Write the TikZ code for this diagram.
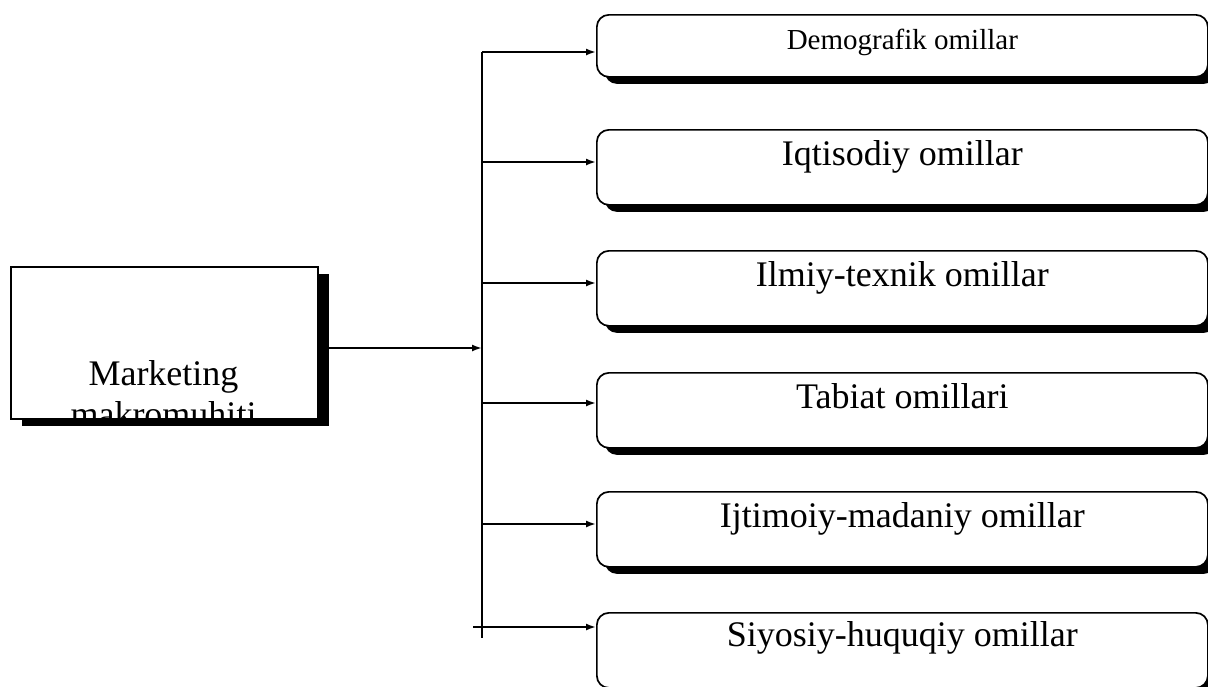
\documentclass[tikz,border=0pt]{standalone}
\usepackage{fontspec}
\setmainfont{Liberation Serif}
\usetikzlibrary{shadows,arrows.meta,calc}
\begin{document}
\begin{tikzpicture}[x=1pt,y=-1pt,
  rbox/.style={draw, line width=1.7pt, fill=white, rounded corners=12pt,
    minimum width=611pt, minimum height=75pt, anchor=north west, inner sep=0pt,
    drop shadow={shadow xshift=8pt, shadow yshift=-7pt, fill=black, opacity=1}},
  lboxst/.style={draw, line width=1.7pt, fill=white, rectangle,
    minimum width=307pt, minimum height=152pt, anchor=north west, inner sep=0pt,
    drop shadow={shadow xshift=11pt, shadow yshift=-7pt, fill=black, opacity=1}},
  lbl/.style={anchor=base, inner sep=0pt, font=\fontsize{36}{41}\selectfont},
  smalllbl/.style={anchor=base, inner sep=0pt, font=\fontsize{29}{33}\selectfont},
  arr/.style={line width=1.8pt, -{Latex[length=10pt,width=7pt]}},
  bus/.style={line width=2.4pt}
]
\useasboundingbox (0,0) rectangle (1208,686);
\clip (0,0) rectangle (1208,686);

% left box
\node[lboxst] (lb) at (10,266) {};
\begin{scope}
  \clip ($(lb.north west)+(1,1)$) rectangle ($(lb.south east)+(-1,-1)$);
  \node[align=center, anchor=north, inner sep=0pt, font=\fontsize{36}{41}\selectfont] (lt) at (163.5,360) {Marketing\\makromuhiti};
\end{scope}

% right boxes
\node[rbox, minimum height=62pt] (b1) at (596,14) {};
\node[rbox] (b2) at (596,129) {};
\node[rbox] (b3) at (596,250) {};
\node[rbox] (b4) at (596,372) {};
\node[rbox] (b5) at (596,491) {};
\node[rbox] (b6) at (596,612) {};

\node[smalllbl] (t1) at ($(b1.north)+(0,35)$) {Demografik omillar};
\node[lbl] (t2) at ($(b2.north)+(0,36)$) {Iqtisodiy omillar};
\node[lbl] (t3) at ($(b3.north)+(0,36)$) {Ilmiy-texnik omillar};
\node[lbl] (t4) at ($(b4.north)+(0,36)$) {Tabiat omillari};
\node[lbl] (t5) at ($(b5.north)+(0,36)$) {Ijtimoiy-madaniy omillar};
\node[lbl] (t6) at ($(b6.north)+(0,34)$) {Siyosiy-huquqiy omillar};

% bus
\coordinate (bt) at (482,52);
\coordinate (bb) at (482,638);
\draw[bus] (bt) -- (bb);

\coordinate (j0) at (482,348);
\coordinate (j1) at (482,52);
\coordinate (j2) at (482,162);
\coordinate (j3) at (482,283);
\coordinate (j4) at (482,403);
\coordinate (j5) at (482,524);
\coordinate (j6) at (473,627);

\draw[arr] (lb.east |- j0) -- (j0);
\draw[arr] (j1) -- (b1.west |- j1);
\draw[arr] (j2) -- (b2.west |- j2);
\draw[arr] (j3) -- (b3.west |- j3);
\draw[arr] (j4) -- (b4.west |- j4);
\draw[arr] (j5) -- (b5.west |- j5);
\draw[arr] (j6) -- (b6.west |- j6);
\end{tikzpicture}
\end{document}
